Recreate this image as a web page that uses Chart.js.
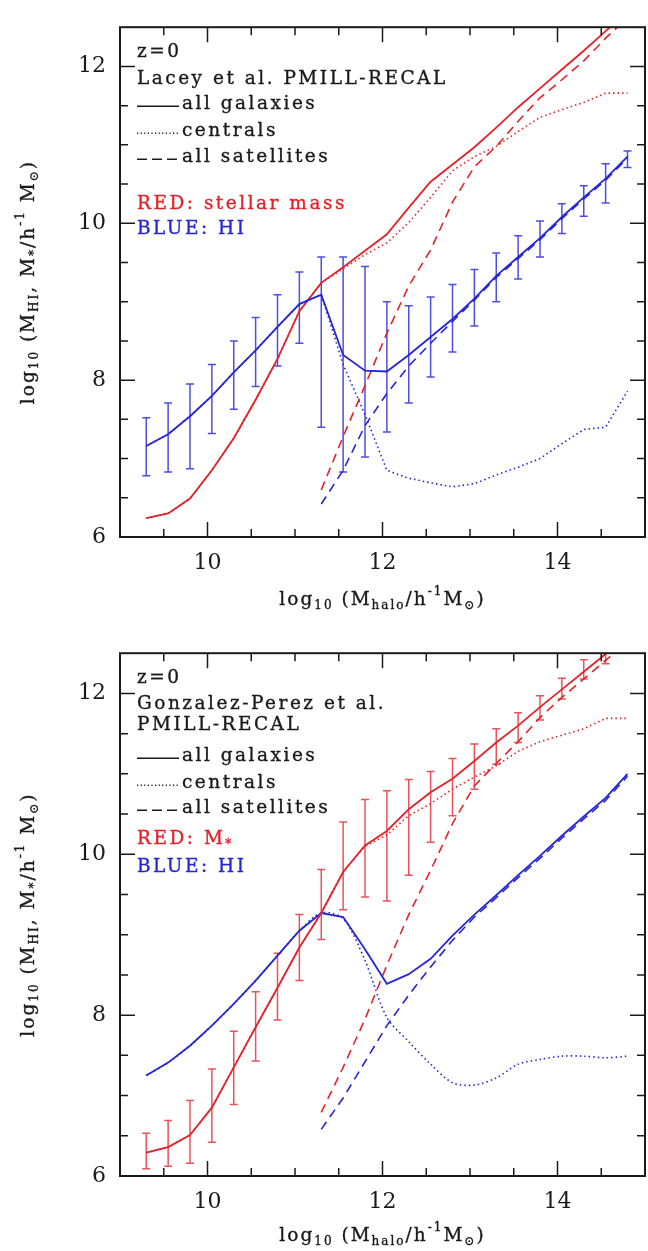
<!DOCTYPE html>
<html>
<head>
<meta charset="utf-8">
<script src="https://cdn.jsdelivr.net/npm/chart.js@4.4.0/dist/chart.umd.min.js"></script>
<style>
html, body { margin: 0; padding: 0; background: #fff; }
canvas { display: block; }
</style>
</head>
<body>
<canvas id="topChart" width="648" height="626"></canvas>
<canvas id="bottomChart" width="648" height="625"></canvas>
<script>
// halo mass bins (log10 Mhalo)
const xBins = [9.3, 9.55, 9.8, 10.05, 10.3, 10.55, 10.8, 11.05, 11.3, 11.55, 11.8, 12.05, 12.3, 12.55, 12.8, 13.05, 13.3, 13.55, 13.8, 14.05, 14.3, 14.55, 14.8];
const xSatBins = [11.3, 11.55, 11.8, 12.05, 12.3, 12.55, 12.8, 13.05, 13.3, 13.55, 13.8, 14.05, 14.3, 14.55, 14.8];
const xTickVals = [10, 12, 14];
const yTickVals = [6, 8, 10, 12];

// Lacey et al. (top panel)
const laceyHiAll = [7.16, 7.31, 7.54, 7.80, 8.10, 8.38, 8.68, 8.97, 9.09, 8.32, 8.12, 8.11, 8.32, 8.55, 8.78, 9.04, 9.33, 9.57, 9.81, 10.08, 10.33, 10.57, 10.85];
const laceyHiLo = [6.78, 6.83, 6.87, 7.32, 7.63, 7.92, 8.18, 8.47, 7.40, 6.83, 7.02, 7.34, 7.71, 8.04, 8.36, 8.69, 9.00, 9.29, 9.57, 9.87, 10.09, 10.26, 10.71];
const laceyHiHi = [7.52, 7.71, 7.95, 8.20, 8.50, 8.80, 9.09, 9.38, 9.57, 9.57, 9.45, 9.00, 8.95, 9.06, 9.22, 9.41, 9.62, 9.84, 10.03, 10.25, 10.48, 10.76, 10.92];
const laceyHiCen = [7.16, 7.31, 7.54, 7.80, 8.10, 8.38, 8.68, 8.97, 9.09, 8.20, 7.56, 6.85, 6.75, 6.69, 6.64, 6.68, 6.79, 6.89, 7.00, 7.19, 7.37, 7.40, 7.86];
const laceyHiSat = [6.42, 6.85, 7.42, 7.83, 8.18, 8.47, 8.75, 9.02, 9.31, 9.55, 9.79, 10.06, 10.31, 10.55, 10.83];
const laceyStarAll = [6.24, 6.30, 6.49, 6.85, 7.26, 7.75, 8.27, 8.88, 9.24, 9.44, 9.65, 9.86, 10.20, 10.53, 10.75, 10.97, 11.22, 11.48, 11.72, 11.96, 12.20, 12.45, 12.70];
const laceyStarCen = [6.24, 6.30, 6.49, 6.85, 7.26, 7.75, 8.27, 8.88, 9.24, 9.42, 9.60, 9.75, 10.01, 10.33, 10.67, 10.85, 10.98, 11.17, 11.35, 11.45, 11.54, 11.66, 11.66];
const laceyStarSat = [6.60, 7.28, 7.93, 8.60, 9.20, 9.66, 10.27, 10.72, 10.98, 11.30, 11.60, 11.83, 12.07, 12.36, 12.62];

// Gonzalez-Perez et al. (bottom panel)
const gpStarAll = [6.29, 6.36, 6.51, 6.85, 7.35, 7.85, 8.34, 8.84, 9.27, 9.78, 10.11, 10.29, 10.56, 10.77, 10.94, 11.16, 11.39, 11.60, 11.83, 12.05, 12.27, 12.49, 12.70];
const gpStarLo = [6.09, 6.12, 6.16, 6.42, 6.89, 7.43, 7.94, 8.43, 8.94, 9.31, 9.47, 9.42, 9.74, 10.15, 10.48, 10.81, 11.12, 11.39, 11.67, 11.93, 12.18, 12.37, null];
const gpStarHi = [6.53, 6.69, 6.94, 7.33, 7.80, 8.29, 8.77, 9.25, 9.81, 10.40, 10.68, 10.79, 10.93, 11.03, 11.19, 11.37, 11.56, 11.76, 11.97, 12.19, 12.42, 12.55, null];
const gpStarCen = [6.29, 6.36, 6.51, 6.85, 7.35, 7.85, 8.34, 8.84, 9.27, 9.78, 10.10, 10.24, 10.48, 10.63, 10.81, 10.96, 11.10, 11.28, 11.40, 11.48, 11.56, 11.69, 11.69];
const gpStarSat = [6.79, 7.35, 7.95, 8.62, 9.25, 9.80, 10.38, 10.85, 11.13, 11.40, 11.70, 11.95, 12.18, 12.41, 12.65];
const gpHiAll = [7.25, 7.41, 7.62, 7.87, 8.14, 8.43, 8.74, 9.05, 9.27, 9.22, 8.82, 8.39, 8.51, 8.70, 8.99, 9.25, 9.49, 9.74, 9.98, 10.23, 10.47, 10.70, 11.00];
const gpHiCen = [7.25, 7.41, 7.62, 7.87, 8.14, 8.43, 8.74, 9.05, 9.27, 9.20, 8.68, 7.97, 7.67, 7.39, 7.16, 7.13, 7.22, 7.39, 7.45, 7.49, 7.49, 7.47, 7.49];
const gpHiSat = [6.58, 6.97, 7.42, 7.87, 8.25, 8.60, 8.93, 9.22, 9.46, 9.71, 9.95, 10.20, 10.44, 10.67, 10.97];

const FAMILY = '"DejaVu Serif", "Liberation Serif", serif';
const RED = '#e3222a';
const BLUE = '#2626d4';
const RED_ERR = '#e85458';
const BLUE_ERR = '#4d4de0';
const INK = '#1a1a1a';

function pts(xs, ys) {
  return xs.map((x, i) => ({ x: x, y: ys[i] }));
}

function lineDS(xs, ys, color, style, extra) {
  const ds = {
    data: pts(xs, ys),
    borderColor: color,
    borderWidth: style === 'solid' ? 1.8 : 1.6,
    borderDash: style === 'dot' ? [1.5, 3] : style === 'dash' ? [9, 6] : [],
    pointRadius: 0,
    fill: false,
    tension: 0
  };
  return Object.assign(ds, extra || {});
}

// rich text: parts = [[text, kind]], kind '' | 'sub' | 'sup'
function richWidth(ctx, parts, size) {
  let w = 0;
  parts.forEach(p => {
    const s = p[1] ? size * 0.65 : size;
    ctx.font = s + 'px ' + FAMILY;
    w += ctx.measureText(p[0]).width;
  });
  return w;
}

function drawRich(ctx, parts, x, y, size, align) {
  let cx = align === 'center' ? x - richWidth(ctx, parts, size) / 2 : x;
  ctx.lineWidth = 0.35;
  ctx.strokeStyle = ctx.fillStyle;
  parts.forEach(p => {
    const s = p[1] ? size * 0.65 : size;
    ctx.font = s + 'px ' + FAMILY;
    let dy = 0;
    if (p[1] === 'sub') dy = size * 0.3;
    if (p[1] === 'sup') dy = -size * 0.42;
    ctx.fillText(p[0], cx, y + dy);
    ctx.strokeText(p[0], cx, y + dy);
    cx += ctx.measureText(p[0]).width;
  });
}

const yTitle = [['log', ''], ['10', 'sub'], [' (M', ''], ['HI', 'sub'], [', M', ''], ['*', 'sub'], ['/h', ''], ['-1', 'sup'], [' M', ''], ['\u2299', 'sub'], [')', '']];
const xTitle = [['log', ''], ['10', 'sub'], [' (M', ''], ['halo', 'sub'], ['/h', ''], ['-1', 'sup'], ['M', ''], ['\u2299', 'sub'], [')', '']];

function panelPlugin(cfg) {
  return {
    id: 'panel_' + cfg.name,
    beforeDatasetsDraw(chart) {
      const ctx = chart.ctx, xs = chart.scales.x, ys = chart.scales.y, a = chart.chartArea;
      ctx.save();
      ctx.beginPath();
      ctx.rect(a.left, a.top, a.right - a.left, a.bottom - a.top);
      ctx.clip();
      chart.data.datasets.forEach(ds => {
        if (!ds.errLo) return;
        ctx.strokeStyle = ds.errColor;
        ctx.lineWidth = 1.5;
        ds.data.forEach((p, i) => {
          const lo = ds.errLo[i], hi = ds.errHi[i];
          if (lo == null || hi == null) return;
          const px = xs.getPixelForValue(p.x);
          const y1 = ys.getPixelForValue(lo), y2 = ys.getPixelForValue(hi);
          ctx.beginPath();
          ctx.moveTo(px, y1); ctx.lineTo(px, y2);
          ctx.moveTo(px - 4, y1); ctx.lineTo(px + 4, y1);
          ctx.moveTo(px - 4, y2); ctx.lineTo(px + 4, y2);
          ctx.stroke();
        });
      });
      ctx.restore();
    },
    afterDraw(chart) {
      const ctx = chart.ctx, xs = chart.scales.x, ys = chart.scales.y, a = chart.chartArea;
      ctx.save();
      // frame
      ctx.strokeStyle = INK;
      ctx.lineWidth = 2;
      ctx.strokeRect(a.left, a.top, a.right - a.left, a.bottom - a.top);
      // inward ticks on all four sides
      ctx.lineWidth = 1.5;
      ctx.beginPath();
      for (let k = 1; k < 12; k++) {
        const v = xs.min + k * 0.5;
        const px = xs.getPixelForValue(v);
        const L = xTickVals.includes(v) ? 15 : 8;
        ctx.moveTo(px, a.bottom); ctx.lineTo(px, a.bottom - L);
        ctx.moveTo(px, a.top); ctx.lineTo(px, a.top + L);
      }
      for (let k = 1; k < 13; k++) {
        const v = ys.min + k * 0.5;
        const py = ys.getPixelForValue(v);
        const L = yTickVals.includes(v) ? 15 : 8;
        ctx.moveTo(a.left, py); ctx.lineTo(a.left + L, py);
        ctx.moveTo(a.right, py); ctx.lineTo(a.right - L, py);
      }
      ctx.stroke();

      // in-plot legend
      ctx.letterSpacing = '2.5px';
      ctx.textBaseline = 'middle';
      const tx = a.left + 17;
      cfg.legend.forEach(row => {
        const y = a.top + row.dy;
        let x = tx;
        if (row.sample) {
          ctx.strokeStyle = INK;
          ctx.lineWidth = 1.4;
          ctx.setLineDash(row.sample === 'dot' ? [1.2, 2.4] : row.sample === 'dash' ? [10, 5] : []);
          ctx.beginPath();
          ctx.moveTo(tx, y + 2); ctx.lineTo(tx + 42, y + 2);
          ctx.stroke();
          ctx.setLineDash([]);
          x = tx + 45;
        }
        ctx.fillStyle = row.color || INK;
        drawRich(ctx, row.parts, x, y, 18.5, 'left');
      });

      // axis titles
      ctx.letterSpacing = '2px';
      ctx.textBaseline = 'middle';
      ctx.fillStyle = INK;
      drawRich(ctx, xTitle, (a.left + a.right) / 2, a.bottom + cfg.xTitleDy, 18.5, 'center');
      ctx.translate(29, (a.top + a.bottom) / 2);
      ctx.rotate(-Math.PI / 2);
      drawRich(ctx, yTitle, 0, 0, 18.5, 'center');
      ctx.restore();
    }
  };
}

function makeChart(id, cfg) {
  return new Chart(document.getElementById(id), {
    type: 'line',
    data: { datasets: cfg.datasets },
    options: {
      responsive: false,
      animation: false,
      devicePixelRatio: 1,
      layout: { padding: { top: cfg.padTop, right: 3, left: 0, bottom: 0 } },
      plugins: { legend: { display: false }, tooltip: { enabled: false } },
      scales: {
        x: {
          type: 'linear', min: 9, max: 15,
          grid: { display: false, drawTicks: false },
          border: { display: false },
          afterBuildTicks: s => { s.ticks = xTickVals.map(v => ({ value: v })); },
          afterFit: s => { s.height = cfg.xAxisHeight; },
          ticks: { font: { family: FAMILY, size: 22 }, color: INK, padding: 13, maxRotation: 0, autoSkip: false }
        },
        y: {
          type: 'linear', min: 6, max: 12.5,
          grid: { display: false, drawTicks: false },
          border: { display: false },
          afterBuildTicks: s => { s.ticks = yTickVals.map(v => ({ value: v })); },
          afterFit: s => { s.width = 120; },
          ticks: { font: { family: FAMILY, size: 22 }, color: INK, padding: 14 }
        }
      }
    },
    plugins: [panelPlugin(cfg)]
  });
}

makeChart('topChart', {
  name: 'lacey',
  padTop: 13,
  xAxisHeight: 89,
  xTitleDy: 63,
  datasets: [
    lineDS(xBins, laceyHiAll, BLUE, 'solid', { errLo: laceyHiLo, errHi: laceyHiHi, errColor: BLUE_ERR }),
    lineDS(xBins, laceyStarAll, RED, 'solid'),
    lineDS(xBins, laceyHiCen, BLUE, 'dot'),
    lineDS(xBins, laceyStarCen, RED, 'dot'),
    lineDS(xSatBins, laceyHiSat, BLUE, 'dash'),
    lineDS(xSatBins, laceyStarSat, RED, 'dash')
  ],
  legend: [
    { dy: 25, parts: [['z=0', '']] },
    { dy: 52, parts: [['Lacey et al. PMILL-RECAL', '']] },
    { dy: 77, sample: 'solid', parts: [['all galaxies', '']] },
    { dy: 104, sample: 'dot', parts: [['centrals', '']] },
    { dy: 130, sample: 'dash', parts: [['all satellites', '']] },
    { dy: 177, color: RED, parts: [['RED: stellar mass', '']] },
    { dy: 202, color: BLUE, parts: [['BLUE: HI', '']] }
  ]
});

makeChart('bottomChart', {
  name: 'gp',
  padTop: 26,
  xAxisHeight: 75,
  xTitleDy: 60,
  datasets: [
    lineDS(xBins, gpStarAll, RED, 'solid', { errLo: gpStarLo, errHi: gpStarHi, errColor: RED_ERR }),
    lineDS(xBins, gpHiAll, BLUE, 'solid'),
    lineDS(xBins, gpStarCen, RED, 'dot'),
    lineDS(xBins, gpHiCen, BLUE, 'dot', { tension: 0.3 }),
    lineDS(xSatBins, gpStarSat, RED, 'dash'),
    lineDS(xSatBins, gpHiSat, BLUE, 'dash')
  ],
  legend: [
    { dy: 25, parts: [['z=0', '']] },
    { dy: 51, parts: [['Gonzalez-Perez et al.', '']] },
    { dy: 72, parts: [['PMILL-RECAL', '']] },
    { dy: 103, sample: 'solid', parts: [['all galaxies', '']] },
    { dy: 130, sample: 'dot', parts: [['centrals', '']] },
    { dy: 155, sample: 'dash', parts: [['all satellites', '']] },
    { dy: 186, color: RED, parts: [['RED: M', ''], ['*', 'sub']] },
    { dy: 214, color: BLUE, parts: [['BLUE: HI', '']] }
  ]
});
</script>
</body>
</html>
